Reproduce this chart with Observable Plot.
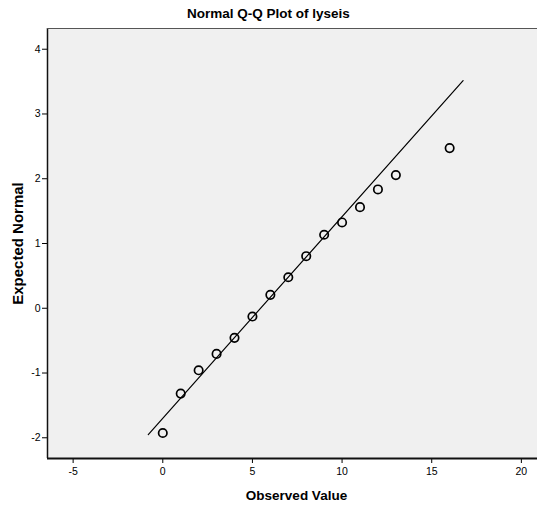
<!DOCTYPE html>
<html>
<head>
<meta charset="utf-8">
<script src="https://cdn.jsdelivr.net/npm/d3@7"></script>
<script src="https://cdn.jsdelivr.net/npm/@observablehq/plot@0.6"></script>
<style>
  html, body { margin: 0; padding: 0; background: #fff; }
  #wrap { width: 537px; }
  #title { font: bold 13.5px "Liberation Sans", Arial, sans-serif; height: 27px; line-height: 28px; text-align: center; color: #000; }
</style>
</head>
<body>
<div id="wrap">
  <div id="title">Normal Q-Q Plot of lyseis</div>
  <div id="chart"></div>
</div>
<script>
const observed = [0, 1, 2, 3, 4, 5, 6, 7, 8, 9, 10, 11, 12, 13, 16];
const expected = [-1.926, -1.318, -0.958, -0.705, -0.457, -0.128, 0.207, 0.479, 0.804, 1.135, 1.325, 1.561, 1.835, 2.056, 2.473];
const lineX = [-0.81, 16.75];
const lineY = [-1.95, 3.515];
const xTicks = [-5, 0, 5, 10, 15, 20];
const yTicks = [-2, -1, 0, 1, 2, 3, 4];
const xLabel = "Observed Value";
const yLabel = "Expected Normal";

const points = observed.map((x, i) => ({x, y: expected[i]}));
const line = lineX.map((x, i) => ({x, y: lineY[i]}));
const xDomain = [-6.43, 20.9];
const yDomain = [-2.32, 4.32];
const fmt = d => String(d);

const chart = Plot.plot({
  width: 537,
  height: 485,
  marginTop: 1,
  marginLeft: 47,
  marginRight: 0,
  marginBottom: 54,
  style: {fontFamily: '"Liberation Sans", Arial, sans-serif', fontSize: "10.5px", background: "#fff", color: "#000"},
  x: {domain: xDomain},
  y: {domain: yDomain},
  marks: [
    Plot.frame({fill: "#f0f0f0", stroke: null}),
    Plot.axisX({ticks: xTicks, tickFormat: fmt, tickSize: 5, tickPadding: 4, label: null, fontSize: 10.5}),
    Plot.axisY({ticks: yTicks, tickFormat: fmt, tickSize: 5, tickPadding: 2, label: null, fontSize: 10.5}),
    Plot.ruleX([xDomain[0]], {stroke: "#111", strokeWidth: 1.5}),
    Plot.ruleY([yDomain[0]], {stroke: "#111", strokeWidth: 2}),
    Plot.ruleY([yDomain[1]], {stroke: "#555", strokeWidth: 1}),
    Plot.line(line, {x: "x", y: "y", stroke: "#000", strokeWidth: 1.2}),
    Plot.dot(points, {x: "x", y: "y", r: 4.2, stroke: "#000", strokeWidth: 1.7, fill: "none"}),
    Plot.text([xLabel], {frameAnchor: "bottom", textAnchor: "middle", dx: 4, dy: 41, fontWeight: "bold", fontSize: 13.5, fill: "#000"}),
    Plot.text([yLabel], {frameAnchor: "left", textAnchor: "middle", rotate: -90, dx: -29, fontWeight: "bold", fontSize: 15, fill: "#000"})
  ]
});
document.getElementById("chart").appendChild(chart);
</script>
</body>
</html>
